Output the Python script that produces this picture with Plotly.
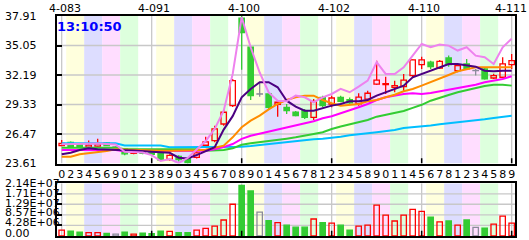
import plotly.graph_objects as go

# ---------------- data ----------------
idx = list(range(51))
day_digits = ['0','2','3','4','5','6','9','0','1','2','3','8','9',
              '0','3','4','5','6','7','0','8','9','0','1','4','5','6','7','8','1','2','3','4',
              '5','8','9','0','1','1','4','5','6','7','8','1','2','3','4','5','8','9']
top_labels = ["4-083", "4-091", "4-100", "4-102", "4-110", "4-111"]
top_label_idx = [0, 10, 20, 30, 40, 50]

opens  = [25.35,25.65,25.45,25.20,25.30,25.60,25.20,25.05,24.60,24.90,24.95,24.60,24.00,24.30,24.10,24.20,
          25.38,25.82,27.44,29.22,37.70,34.88,30.35,30.35,29.35,29.06,28.58,28.73,28.09,30.03,29.38,30.03,
          29.80,29.40,29.86,31.31,31.25,31.00,31.06,32.13,33.20,33.43,32.87,33.84,32.61,33.26,32.61,32.78,
          31.90,31.97,33.20]
highs  = [25.90,25.75,25.50,25.85,26.00,25.70,25.30,25.10,24.90,25.00,25.00,24.70,24.50,24.40,24.20,24.80,
          26.20,27.28,28.90,31.81,37.91,34.90,31.49,30.40,29.60,29.38,28.70,28.90,29.86,30.19,30.19,30.19,
          30.00,30.42,30.67,33.58,32.03,31.64,32.29,33.70,33.97,33.58,33.65,34.07,33.26,33.75,32.78,32.94,
          32.30,33.91,34.23]
lows   = [25.30,25.20,25.10,25.15,25.25,25.30,25.10,24.40,24.50,24.50,24.40,23.90,23.90,23.80,23.62,24.10,
          25.30,25.67,27.28,29.10,32.70,29.77,30.09,28.90,28.15,28.41,28.20,27.93,27.83,29.06,29.06,29.55,
          29.40,29.22,29.64,31.25,30.35,30.52,30.67,31.97,32.78,32.78,32.78,33.00,32.45,32.70,32.13,31.75,
          31.80,31.90,32.78]
closes = [25.55,25.25,25.20,25.40,25.50,25.35,25.20,24.55,24.85,24.60,24.50,23.95,24.40,24.00,23.70,24.65,
          25.70,26.96,28.58,31.64,36.30,30.19,30.35,29.06,29.55,28.73,28.25,28.09,29.64,29.22,29.96,29.64,
          29.50,30.05,30.42,31.70,31.35,31.16,31.70,33.65,33.65,33.00,33.52,33.20,33.10,32.78,32.61,31.81,
          32.13,33.26,33.58]
volume = [2.4e6,2.0e6,1.6e6,1.35e6,1.35e6,1.1e6,0.8e6,1.6e6,0.8e6,1.2e6,0.95e6,2.0e6,1.9e6,1.35e6,1.35e6,2.4e6,
          3.1e6,4.0e6,6.5e6,12.9e6,20.6e6,18.3e6,9.7e6,6.2e6,5.4e6,4.4e6,3.6e6,3.6e6,6.9e6,5.4e6,5.2e6,4.4e6,
          2.4e6,4.0e6,4.4e6,12.5e6,8.5e6,6.1e6,8.5e6,10.8e6,10.0e6,7.7e6,5.7e6,6.1e6,4.4e6,6.5e6,3.5e6,3.2e6,
          4.8e6,8.1e6,5.2e6]

ma_indigo = [24.50,24.66,24.92,25.08,25.00,24.95,24.92,24.90,24.88,24.85,24.75,24.70,24.65,24.17,24.10,24.43,
             24.85,25.20,26.90,28.20,30.03,30.84,31.49,31.49,31.00,29.70,29.12,28.73,28.73,28.99,29.22,29.38,
             29.64,29.64,29.77,30.19,30.52,30.84,31.16,31.97,32.29,32.55,32.94,33.26,33.26,33.10,33.00,32.61,
             32.55,32.61,32.61]
ma_orange = [24.27,24.27,24.50,24.60,24.70,24.82,24.99,24.95,24.92,24.90,24.88,24.85,24.85,24.85,24.88,24.90,
             24.95,25.18,25.34,26.15,27.12,27.76,28.25,28.85,29.40,29.77,30.03,30.19,30.19,29.77,29.45,29.22,
             29.31,29.38,29.64,29.77,30.03,30.28,30.61,30.84,31.16,31.49,31.81,32.19,32.55,32.78,32.94,32.94,
             32.94,32.94,32.94]
ma_magenta = [24.92,24.92,24.92,24.92,24.92,24.92,24.92,24.80,24.80,24.80,24.80,24.80,24.80,24.80,24.80,24.80,
              24.85,25.00,25.20,25.50,26.00,26.30,26.50,26.70,26.90,27.10,27.30,27.50,27.70,28.00,28.20,28.48,
              28.75,29.06,29.38,29.77,30.03,30.19,30.35,30.42,30.35,30.45,30.61,30.74,30.93,31.10,31.25,31.49,
              31.64,31.81,32.07]
ma_green = [25.14,25.14,25.14,25.14,25.14,25.14,25.14,25.00,25.00,25.00,25.00,25.00,25.00,25.00,25.00,25.00,
            24.85,24.85,24.92,25.08,25.43,25.57,25.67,25.82,25.92,26.02,26.15,26.28,26.47,26.64,26.96,27.20,
            27.40,27.60,27.83,28.15,28.34,28.48,28.70,29.00,29.30,29.70,30.00,30.25,30.52,30.74,30.93,31.13,
            31.25,31.25,31.16]
ma_cyan = [25.57,25.57,25.57,25.57,25.57,25.57,25.57,25.36,25.36,25.36,25.36,25.36,25.18,25.18,25.18,25.18,
           25.18,25.18,25.18,25.18,25.24,25.30,25.40,25.50,25.60,25.70,25.80,25.90,25.96,26.02,26.08,26.21,
           26.34,26.47,26.54,26.64,26.73,26.86,27.05,27.12,27.20,27.30,27.42,27.51,27.61,27.70,27.76,27.90,
           28.02,28.15,28.25]
line_violet = [25.47,25.50,25.55,25.55,25.55,25.50,25.45,24.75,24.72,24.68,24.43,23.85,24.05,23.66,24.14,24.92,
               25.79,26.96,28.73,32.29,37.79,34.88,32.43,30.50,29.70,29.64,30.19,30.03,29.55,30.03,30.35,30.84,
               30.52,31.06,31.64,33.43,32.29,32.29,32.94,34.07,35.20,34.88,35.14,35.04,34.56,34.88,34.07,33.91,
               33.26,34.88,35.70]

price_ticks = [23.61, 26.47, 29.33, 32.19, 35.05, 37.91]
price_tick_text = ["23.61", "26.47", "29.33", "32.19", "35.05", "37.91"]
vol_ticks = [0, 4.28e6, 8.57e6, 1.29e7, 1.71e7, 2.14e7]
vol_tick_text = ["0.00", "4.28E+06", "8.57E+06", "1.29E+07", "1.71E+07", "2.14E+07"]
time_label = "13:10:50"

# ---------------- style ----------------
RED = "#ff0000"
GREEN = "#33cc33"
GRAY = "#8a8a9a"
FONT = "DejaVu Sans"
GRID = "#c8c8c8"
band_colors = ["#ffffdd", "#ddddff", "#ffddff", "#ddffdd", None]
X_RANGE = [-0.52, 50.37]
P_RANGE = [price_ticks[0], price_ticks[-1]]
V_RANGE = [vol_ticks[0], vol_ticks[-1]]

fig = go.Figure()

groups = {"up": [], "down": [], "flat": []}
for i in idx:
    o, c = opens[i], closes[i]
    k = "up" if c > o else ("down" if c < o else "flat")
    groups[k].append(i)

gcol = {"up": RED, "down": GREEN, "flat": GRAY}
for k, members in groups.items():
    wx, wy = [], []
    for i in members:
        top = max(opens[i], closes[i]); bot = min(opens[i], closes[i])
        wx += [i, i, None, i, i, None]
        wy += [highs[i], top, None, bot, lows[i], None]
    fig.add_trace(go.Scatter(x=wx, y=wy, mode="lines", line=dict(color=gcol[k], width=1.3),
                             xaxis="x", yaxis="y", hoverinfo="skip"))
    base = [min(opens[i], closes[i]) for i in members]
    hgt = [max(abs(closes[i] - opens[i]), 0.02) for i in members]
    fill = GREEN if k == "down" else ("rgba(0,0,0,0)" if k == "up" else GRAY)
    fig.add_trace(go.Bar(x=members, y=hgt, base=base, width=0.6, xaxis="x", yaxis="y",
                         marker=dict(color=fill, line=dict(color=gcol[k], width=1.3))))
    vfill = GREEN if k == "down" else "rgba(0,0,0,0)"
    fig.add_trace(go.Bar(x=members, y=[volume[i] for i in members], width=0.6, xaxis="x2", yaxis="y2",
                         marker=dict(color=vfill, line=dict(color=gcol[k], width=1.3))))

for series, col in [(ma_cyan, "#00bfff"), (ma_green, "#33cc33"), (ma_magenta, "#ff00ff"),
                    (ma_orange, "#ff8c00"), (ma_indigo, "#4b0082"), (line_violet, "#ee82ee")]:
    fig.add_trace(go.Scatter(x=idx, y=series, mode="lines", line=dict(color=col, width=2),
                             xaxis="x", yaxis="y", hoverinfo="skip"))

# background bands then grid lines (all drawn under the traces, in data coordinates)
panels = [("x", "y", P_RANGE), ("x2", "y2", V_RANGE)]
shapes = []
for k in range(26):
    col = band_colors[k % 5]
    if col is None:
        continue
    x0 = 2 * k + 0.5
    x1 = min(2 * k + 2.5, X_RANGE[1])
    for xr, yr, rg in panels:
        shapes.append(dict(type="rect", xref=xr, yref=yr, x0=x0, x1=x1, y0=rg[0], y1=rg[1],
                           fillcolor=col, line=dict(width=0), layer="below"))
for gx in [0, 10, 20, 30, 40, 50]:
    for xr, yr, rg in panels:
        shapes.append(dict(type="line", xref=xr, yref=yr, x0=gx, x1=gx, y0=rg[0], y1=rg[1],
                           line=dict(color=GRID, width=1.3), layer="below"))
for v in price_ticks[1:-1]:
    shapes.append(dict(type="line", xref="x", yref="y", x0=X_RANGE[0], x1=X_RANGE[1], y0=v, y1=v,
                       line=dict(color=GRID, width=1.3), layer="below"))
for v in vol_ticks[1:-1]:
    shapes.append(dict(type="line", xref="x2", yref="y2", x0=X_RANGE[0], x1=X_RANGE[1], y0=v, y1=v,
                       line=dict(color=GRID, width=1.3), layer="below"))
p_tick = (P_RANGE[1] - P_RANGE[0]) * 0.035
v_tick = (V_RANGE[1] - V_RANGE[0]) * 0.1
for gx in [10, 20, 30, 40, 50]:
    shapes.append(dict(type="line", xref="x", yref="y", x0=gx, x1=gx, y0=P_RANGE[0], y1=P_RANGE[0] + p_tick,
                       line=dict(color="black", width=1.5), layer="above"))
    shapes.append(dict(type="line", xref="x2", yref="y2", x0=gx, x1=gx, y0=V_RANGE[0], y1=V_RANGE[0] + v_tick,
                       line=dict(color="black", width=1.5), layer="above"))

annotations = []
lab_x = (3 - 57) / 458
for v, t in zip(price_ticks, price_tick_text):
    annotations.append(dict(x=lab_x, xref="paper", y=v, yref="y", text=t, showarrow=False,
                            xanchor="left", yanchor="middle", font=dict(family=FONT, size=11, color="#000")))
vshift = [3, 2.5, 2, 0.7, 0, 0]
for v, t, s in zip(vol_ticks, vol_tick_text, vshift):
    annotations.append(dict(x=lab_x, xref="paper", y=v, yref="y2", text=t, showarrow=False,
                            xanchor="left", yanchor="middle", yshift=s,
                            font=dict(family=FONT, size=11, color="#000")))
top_shift = [3, 2, 2, 2, 2, -1]
for i, t, s in zip(top_label_idx, top_labels, top_shift):
    annotations.append(dict(x=i, xref="x", y=1, yref="paper", text=t, showarrow=False,
                            xanchor="center", yanchor="bottom", xshift=s, yshift=-1,
                            font=dict(family=FONT, size=11, color="#000")))
annotations.append(dict(x=0.0, xref="paper", y=1, yref="paper", text="<b>%s</b>" % time_label,
                        showarrow=False, xanchor="left", yanchor="top", yshift=-1, xshift=-2,
                        font=dict(family=FONT, size=13, color="#0000ff")))

axis_common = dict(showline=True, mirror=True, linecolor="black", linewidth=1.5, zeroline=False)
fig.update_layout(
    width=529, height=240,
    margin=dict(l=57, r=14, t=16, b=4),
    paper_bgcolor="white", plot_bgcolor="white",
    showlegend=False, barmode="overlay", hovermode=False,
    xaxis=dict(domain=[0, 1], range=X_RANGE, tickvals=idx, ticktext=day_digits,
               ticks="", showgrid=False, anchor="y", tickangle=0,
               tickfont=dict(family=FONT, size=11, color="#000"), **axis_common),
    yaxis=dict(domain=[0.3295, 1], range=P_RANGE, tickvals=price_ticks, showticklabels=False,
               ticks="inside", ticklen=5, tickwidth=1.5, tickcolor="black",
               showgrid=False, anchor="x", **axis_common),
    xaxis2=dict(domain=[0, 1], range=X_RANGE, showticklabels=False,
                ticks="", showgrid=False, anchor="y2", **axis_common),
    yaxis2=dict(domain=[0, 0.2395], range=V_RANGE, tickvals=vol_ticks, showticklabels=False,
                ticks="inside", ticklen=5, tickwidth=1.5, tickcolor="black",
                showgrid=False, anchor="x2", **axis_common),
    shapes=shapes, annotations=annotations,
)

fig.write_html("out.html")
